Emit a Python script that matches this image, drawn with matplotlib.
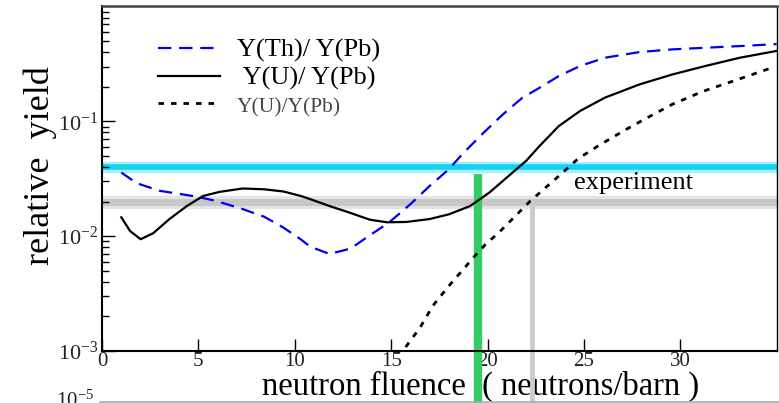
import numpy as np
import matplotlib
matplotlib.use("Agg")
import matplotlib.pyplot as plt
from matplotlib.lines import Line2D
from matplotlib.ticker import LogLocator, NullFormatter

plt.rcParams["font.family"] = ["Liberation Serif", "DejaVu Serif"]
plt.rcParams["mathtext.fontset"] = "custom"
plt.rcParams["mathtext.rm"] = "Liberation Serif"
plt.rcParams["mathtext.it"] = "Liberation Serif:italic"

# ── data ──
th_x = [1.0, 1.8, 3.0, 3.9, 4.9, 5.9, 7.3, 8.4, 9.4, 10.3, 10.8, 11.8, 12.9,
        13.9, 14.9, 16.0, 17.0, 18.0, 18.7, 19.8, 20.8, 21.8, 22.7, 23.7,
        24.8, 26.1, 27.9, 29.6, 31.3, 33.1, 35.0]
th_y = [0.0358, 0.0289, 0.0248, 0.0235, 0.0221, 0.0203, 0.0172, 0.0148,
        0.0119, 0.0094, 0.0081, 0.0070, 0.0078, 0.0102, 0.0132, 0.019,
        0.0274, 0.0383, 0.052, 0.0797, 0.115, 0.16, 0.196, 0.248, 0.303,
        0.358, 0.401, 0.423, 0.437, 0.452, 0.47]

u_x = [1.0, 1.45, 2.0, 2.65, 3.5, 4.4, 5.25, 6.1, 7.3, 8.4, 9.4, 10.3, 10.8,
       11.8, 12.9, 13.9, 14.8, 15.8, 17.0, 18.0, 19.1, 20.1, 21.0, 22.0,
       22.7, 23.7, 24.8, 26.1, 27.9, 29.6, 31.3, 33.1, 35.0]
u_y = [0.0146, 0.0111, 0.0094, 0.0106, 0.0141, 0.0183, 0.0224, 0.0243,
       0.026, 0.0256, 0.0245, 0.0224, 0.021, 0.0183, 0.0159, 0.0139, 0.0132,
       0.0133, 0.0141, 0.0155, 0.0183, 0.024, 0.0324, 0.0452, 0.061, 0.091,
       0.123, 0.161, 0.21, 0.256, 0.303, 0.358, 0.41]

u2_x = [15.0, 15.6, 16.5, 17.15, 18.0, 19.4, 19.9, 20.6, 22.2, 23.7, 24.7,
        25.8, 27.2, 28.4, 29.6, 31.2, 32.5, 33.75, 34.6]
u2_y = [0.00072, 0.001, 0.0016, 0.00246, 0.0037, 0.0069, 0.0085, 0.0108,
        0.0201, 0.0334, 0.0473, 0.062, 0.0852, 0.11, 0.141, 0.183, 0.217,
        0.256, 0.287]

exp_th = 0.04      # cyan band
exp_u = 0.02       # gray band
fluence_th = 19.5  # green marker
fluence_u = 22.3   # gray marker

labels = ["Y(Th)/ Y(Pb)", " Y(U)/ Y(Pb)", "Y(U)/Y(Pb)"]

fig = plt.figure(figsize=(7.79, 4.03), dpi=100)
ax = fig.add_axes([0.131, 0.129, 0.866, 0.855])

# experiment bands
ax.axhline(exp_th, color="#a8eefa", lw=8, zorder=1)
ax.axhline(exp_th, color="#14d2f2", lw=4, zorder=1)
ax.axhline(exp_u, color="#e4e4e4", lw=9.5, zorder=1)
ax.axhline(exp_u, color="#c8c8c8", lw=5, zorder=1)

# fluence markers, running below the axes
ax.vlines(fluence_th, 3e-4, 0.035, color="#33cc66", lw=6, zorder=2, clip_on=False)
ax.vlines(fluence_u, 3e-4, exp_u, color="#cccccc", lw=3.5, zorder=2, clip_on=False)

l1, = ax.plot(th_x, th_y, color="#0000ee", lw=1.6, dashes=(6, 3.5), zorder=3)
l2, = ax.plot(u_x, u_y, color="black", lw=1.6, zorder=3)
l3, = ax.plot(u2_x, u2_y, color="black", lw=2, dashes=(2, 2.5), zorder=3)

ax.text(24.5, 0.029, "experiment", fontsize=19, va="center", ha="left")

ax.set_yscale("log")
ax.set_xlim(0, 35)
ax.set_ylim(1e-3, 1)

ax.set_xticks([0, 5, 10, 15, 20, 25, 30])
ax.set_xticklabels(["0", "5", "10", "15", "20", "25", "30"])
ax.set_yticks([1e-3, 1e-2, 1e-1])
ax.set_yticklabels(["$10^{-3}$", "$10^{-2}$", "$10^{-1}$"])
ax.yaxis.set_minor_locator(LogLocator(base=10, subs=np.arange(2, 10)))
ax.yaxis.set_minor_formatter(NullFormatter())

ax.tick_params(axis="x", direction="in", length=9, width=1, pad=1,
               labelsize=15, colors="black", labelcolor="#222222")
ax.tick_params(axis="y", which="major", direction="in", length=9, width=1,
               pad=3, labelsize=16, labelcolor="#222222")
ax.tick_params(axis="y", which="minor", direction="in", length=5, width=1)
ax.tick_params(top=False, right=False)

ax.spines["top"].set_color("#444444")
ax.spines["top"].set_linewidth(1.8)
ax.spines["right"].set_linewidth(1.0)
ax.spines["left"].set_linewidth(1.5)
ax.spines["bottom"].set_linewidth(1.5)

ax.set_xlabel("neutron fluence  ( neutrons/barn )", fontsize=23.5, va="center")
ax.xaxis.set_label_coords(0.561, -0.104)
ax.set_ylabel("relative  yield", fontsize=26, va="center")
ax.yaxis.set_label_coords(-0.092, 0.538)

leg = ax.legend([l1, l2, l3], labels, loc="upper left",
                bbox_to_anchor=(0.0825, 0.907), frameon=False, fontsize=19,
                handlelength=2.35, handletextpad=0.64, labelspacing=0.15,
                borderpad=0, borderaxespad=0)
leg.get_texts()[2].set_fontsize(15.5)
leg.get_texts()[2].set_color("#444444")

# top of the panel below, cut by the figure edge
fig.add_artist(Line2D([0.128, 1.0], [0.003, 0.003], color="#aaaaaa", lw=1.2))
fig.text(0.072, -0.022, "$10^{-5}$", fontsize=15, color="#222222", va="bottom")

fig.savefig("out.png", dpi=100)
